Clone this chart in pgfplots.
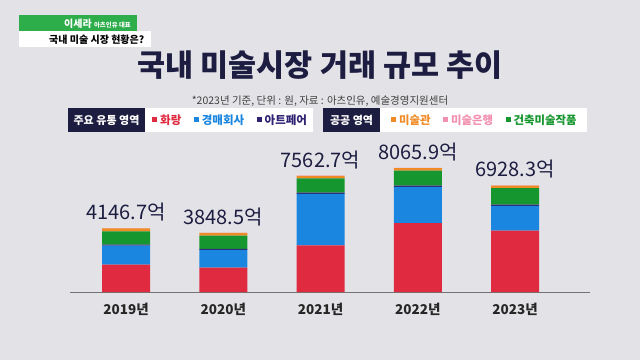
\documentclass[border=0pt]{standalone}
\usepackage{pgfplots}
\pgfplotsset{compat=1.18}
\usepackage{fontspec}
\setmainfont{Noto Sans CJK KR}
\definecolor{bg}{HTML}{E3E3E7}
\definecolor{cRed}{HTML}{DF2A40}
\definecolor{cBlue}{HTML}{1A86E0}
\definecolor{cPur}{HTML}{2E2272}
\definecolor{cGreen}{HTML}{16962E}
\definecolor{cOrange}{HTML}{F08A24}
\definecolor{cPink}{HTML}{F28FAE}
\definecolor{navy}{HTML}{1D1D42}
\definecolor{banner}{HTML}{2EAD4B}
\newcommand{\sq}[1]{\textcolor{#1}{\rule[2.5pt]{5pt}{5pt}}\hspace{3pt}}
\begin{document}
\begin{tikzpicture}[x=1pt,y=1pt]
\fill[bg] (0,0) rectangle (640,360);
% top banner
\fill[banner] (19,329) rectangle (137,345);
\fill[white] (19,313) rectangle (151,329);
\node[anchor=base west, inner sep=0, text=white, font=\bfseries\fontsize{10}{10}\selectfont] at (64,333) {이세라 {\fontsize{6.4}{7}\selectfont 아츠인유 대표}};
\node[anchor=base west, inner sep=0, text=black, font=\bfseries\fontsize{10}{11}\selectfont] at (49,317) {국내 미술 시장 현황은?};
% title
\node[text=navy, font=\bfseries\fontsize{30.5}{32}\selectfont] at (320,295) {국내 미술시장 거래 규모 추이};
\node[text=black!75, font=\fontsize{10.5}{11}\selectfont] at (320,259) {*2023년 기준, 단위 : 원, 자료 : 아츠인유, 예술경영지원센터};
% legend
\fill[white] (68,228) rectangle (313,252);
\fill[navy] (68,228) rectangle (145,252);
\node[text=white, font=\bfseries\fontsize{11}{11}\selectfont] at (106.5,240) {주요 유통 영역};
\node[anchor=west, inner sep=0, font=\bfseries\fontsize{11.5}{12}\selectfont] at (152,240)
  {\sq{cRed}\textcolor{cRed}{화랑}\hspace{12.5pt}\sq{cBlue}\textcolor{cBlue}{경매회사}\hspace{12.5pt}\sq{cPur}\textcolor{cPur}{아트페어}};
\fill[white] (323,228) rectangle (587,252);
\fill[navy] (323,228) rectangle (380,252);
\node[text=white, font=\bfseries\fontsize{11}{11}\selectfont] at (351.5,240) {공공 영역};
\node[anchor=west, inner sep=0, font=\bfseries\fontsize{11.4}{12}\selectfont] at (391,240)
  {\sq{cOrange}\textcolor{cOrange}{미술관}\hspace{12.5pt}\sq{cPink}\textcolor{cPink}{미술은행}\hspace{12.5pt}\sq{cGreen}\textcolor{cGreen}{건축미술작품}};
\begin{axis}[
  at={(70pt,68pt)}, anchor=south west,
  scale only axis, width=520pt, height=142pt,
  xmin=-0.576, xmax=4.771, ymin=0, ymax=9230,
  ybar stacked, bar width=48pt,
  axis x line*=bottom, axis y line=none,
  axis line style={draw=black!55, line width=0.8pt, -},
  xtick={0,1,2,3,4},
  xticklabels={2019년,2020년,2021년,2022년,2023년},
  major tick length=0pt,
  xticklabel style={font=\bfseries\fontsize{13.5}{14}\selectfont, text=black!85, anchor=base, yshift=-22pt},
  ytick=\empty,
  clip=false,
]
\addplot[fill=cRed, draw=none] coordinates {(0,1777) (1,1580) (2,3038) (3,4478) (4,3996)};
\addplot[fill=cBlue, draw=none] coordinates {(0,1230) (1,1155) (2,3341) (3,2356) (4,1595)};
\addplot[fill=cPur, draw=none] coordinates {(0,66) (1,67) (2,84) (3,84) (4,84)};
\addplot[fill=cGreen, draw=none] coordinates {(0,875) (1,867) (2,925) (3,973) (4,1079)};
\addplot[fill=cOrange, draw=none] coordinates {(0,190) (1,172) (2,167) (3,167) (4,167)};
\addplot[fill=cPink, draw=none, point meta=explicit symbolic, nodes near coords,
  every node near coord/.append style={anchor=base, yshift=8.5pt, text=navy, font=\fontsize{20}{20}\selectfont}]
  coordinates {(0,8.7)[4146.7억] (1,7.5)[3848.5억] (2,7.7)[7562.7억] (3,7.9)[8065.9억] (4,7.3)[6928.3억]};
\end{axis}
\end{tikzpicture}
\end{document}
